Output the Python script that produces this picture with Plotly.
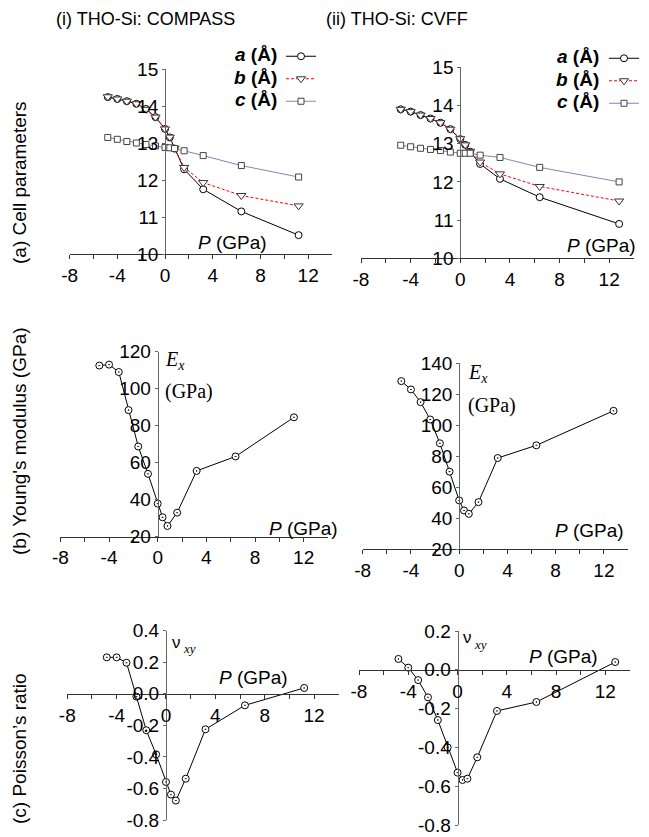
import plotly.graph_objects as go

# the page body adds an 8px margin, so the figure is drawn 8px smaller and pixel positions are shifted
OFF = 8
W, H = 649 - OFF, 837 - OFF

# pressures (GPa)
pressure_compass = [-4.8, -4.0, -3.2, -2.4, -1.6, -0.8, 0.0, 0.4, 0.8, 1.6, 3.2, 6.4, 11.2]
pressure_cvff = [-4.8, -4.0, -3.2, -2.4, -1.6, -0.8, 0.0, 0.4, 0.8, 1.6, 3.2, 6.4, 12.8]

# cell parameters (Å)
a_compass = [14.24, 14.19, 14.13, 14.06, 13.92, 13.70, 13.38, 13.15, 12.85, 12.29, 11.75, 11.15, 10.51]
b_compass = [14.25, 14.19, 14.13, 14.06, 13.91, 13.70, 13.38, 13.16, 12.86, 12.34, 11.93, 11.58, 11.30]
c_compass = [13.15, 13.10, 13.04, 13.00, 12.96, 12.92, 12.88, 12.87, 12.85, 12.79, 12.66, 12.39, 12.08]
a_cvff = [13.90, 13.84, 13.75, 13.66, 13.55, 13.38, 13.12, 12.97, 12.79, 12.47, 12.08, 11.60, 10.90]
b_cvff = [13.90, 13.84, 13.75, 13.66, 13.55, 13.38, 13.13, 12.97, 12.80, 12.52, 12.21, 11.88, 11.50]
c_cvff = [12.96, 12.92, 12.88, 12.85, 12.82, 12.78, 12.75, 12.75, 12.75, 12.70, 12.64, 12.38, 12.00]

# Young's modulus E_x (GPa)
E_compass = [112.5, 113.0, 109.0, 88.4, 68.7, 53.9, 37.8, 30.4, 25.7, 32.9, 55.5, 63.3, 84.5]
E_cvff = [128.5, 123.1, 114.9, 103.7, 88.3, 70.0, 51.4, 44.9, 42.7, 50.3, 78.8, 87.0, 109.3]

# Poisson's ratio nu_xy
nu_compass = [0.231, 0.231, 0.197, -0.018, -0.231, -0.384, -0.559, -0.639, -0.677, -0.538, -0.225, -0.073, 0.037]
nu_cvff = [0.056, 0.011, -0.053, -0.142, -0.259, -0.400, -0.530, -0.568, -0.561, -0.451, -0.212, -0.166, 0.040]

# tick labels
x_tickvals = [-8, -4, 0, 4, 8, 12]
x_ticktext = ["-8", "-4", "0", "4", "8", "12"]
x_minorvals = [-6, -2, 2, 6, 10]
cell_ticks = [10, 11, 12, 13, 14, 15]
young_ticks_i = [20, 40, 60, 80, 100, 120]
young_ticks_ii = [20, 40, 60, 80, 100, 120, 140]
poisson_ticks_i = [-0.8, -0.6, -0.4, -0.2, 0.0, 0.2, 0.4]
poisson_ticks_ii = [-0.8, -0.6, -0.4, -0.2, 0.0, 0.2]

FONT = "Liberation Sans, Arial, sans-serif"
SERIF = "Liberation Serif, Times New Roman, serif"
XR = [-8, 14]


def fx(px):
    return (px - OFF) / W


def fy(py):
    return 1 - (py - OFF) / H


fig = go.Figure()

# panel boxes in page pixels: left (x=-8), right (x=14), top, bottom
panels = {
    1: dict(box=(69.6, 332, 69, 254), yr=[10, 15], yt=cell_ticks, xzero=False),
    2: dict(box=(361, 634, 67.3, 258.3), yr=[10, 15], yt=cell_ticks, xzero=False),
    3: dict(box=(60.4, 328, 351.7, 536.5), yr=[20, 120], yt=young_ticks_i, xzero=False),
    4: dict(box=(362.7, 628, 363.3, 549), yr=[20, 140], yt=young_ticks_ii, xzero=False),
    5: dict(box=(67.3, 338.7, 630.7, 820), yr=[-0.8, 0.4], yt=poisson_ticks_i, xzero=True),
    6: dict(box=(359, 630, 631, 825), yr=[-0.8, 0.2], yt=poisson_ticks_ii, xzero=True),
}

for n, p in panels.items():
    x0, x1, yt0, yb0 = p["box"]
    xd = [fx(x0), fx(x1)]
    yd = [fy(yb0), fy(yt0)]
    yr = p["yr"]
    sfx = "" if n == 1 else str(n)
    ypos = xd[0] + (0 - XR[0]) / (XR[1] - XR[0]) * (xd[1] - xd[0])
    if isinstance(yr[0], float):
        ytext = ["%.1f" % v for v in p["yt"]]
    else:
        ytext = [str(v) for v in p["yt"]]
    xa = dict(domain=xd, range=XR, tickmode="array", tickvals=x_tickvals, ticktext=x_ticktext,
              showgrid=False, zeroline=False, showline=True, linecolor="#333", linewidth=1,
              ticks="outside", ticklen=4, tickcolor="#333", automargin=False,
              minor=dict(tickmode="array", tickvals=x_minorvals, ticks="outside", ticklen=4,
                         tickcolor="#333", showgrid=False),
              tickfont=dict(family=FONT, size=19, color="black"))
    if p["xzero"]:
        xa.update(anchor="free", position=yd[0] + (0 - yr[0]) / (yr[1] - yr[0]) * (yd[1] - yd[0]))
    else:
        xa.update(anchor="y" + sfx)
    ya = dict(domain=yd, range=yr, anchor="free", position=ypos, tickmode="array",
              tickvals=p["yt"], ticktext=ytext, showgrid=False, zeroline=False,
              showline=True, linecolor="#666", linewidth=1, ticks="outside", ticklen=3,
              tickcolor="#666", automargin=False,
              tickfont=dict(family=FONT, size=19, color="black"))
    fig.update_layout(**{"xaxis" + sfx: xa, "yaxis" + sfx: ya})

# (a) cell parameters
cell_series = [
    (pressure_compass, a_compass, b_compass, c_compass, "x", "y", "legend"),
    (pressure_cvff, a_cvff, b_cvff, c_cvff, "x2", "y2", "legend2"),
]
for P, a, b, c, xa, ya, lg in cell_series:
    fig.add_trace(go.Scatter(x=P, y=a, mode="lines+markers", name=" ", xaxis=xa, yaxis=ya, legend=lg,
                             line=dict(color="black", width=1),
                             marker=dict(symbol="circle", size=7, color="white", line=dict(color="black", width=1))))
    fig.add_trace(go.Scatter(x=P, y=b, mode="lines+markers", name=" ", xaxis=xa, yaxis=ya, legend=lg,
                             line=dict(color="#ff0000", width=1, dash="3px,2px"),
                             marker=dict(symbol="triangle-down", size=8, color="white", line=dict(color="#333", width=1))))
    fig.add_trace(go.Scatter(x=P, y=c, mode="lines+markers", name=" ", xaxis=xa, yaxis=ya, legend=lg,
                             line=dict(color="#8484c4", width=1),
                             marker=dict(symbol="square", size=6, color="white", line=dict(color="#444", width=1))))

# (b) Young's modulus and (c) Poisson's ratio
for P, v, xa, ya in [(pressure_compass, E_compass, "x3", "y3"), (pressure_cvff, E_cvff, "x4", "y4"),
                     (pressure_compass, nu_compass, "x5", "y5"), (pressure_cvff, nu_cvff, "x6", "y6")]:
    fig.add_trace(go.Scatter(x=P, y=v, mode="lines+markers", showlegend=False, xaxis=xa, yaxis=ya,
                             line=dict(color="black", width=1),
                             marker=dict(symbol="circle-dot", size=7, color="white", line=dict(color="black", width=1))))


def ann(text, px, py, size=19, family=FONT, xanchor="left", yanchor="middle", angle=0):
    fig.add_annotation(text=text, x=fx(px), y=fy(py), xref="paper", yref="paper",
                       xanchor=xanchor, yanchor=yanchor, showarrow=False, textangle=angle,
                       font=dict(family=family, size=size, color="black"))


# titles
ann("(i) THO-Si: COMPASS", 145, 19, size=18, xanchor="center")
ann("(ii) THO-Si: CVFF", 397, 19, size=18, xanchor="center")
ann("(a) Cell parameters", 19, 183, size=19, xanchor="center", angle=-90)
ann("(b) Young's modulus (GPa)", 19, 441, size=19, xanchor="center", angle=-90)
ann("(c) Poisson\u2019s ratio", 19, 749, size=19, xanchor="center", angle=-90)

# legend texts
for xr, ys in [(279, (55, 77, 99)), (601, (57, 79, 101))]:
    for lab, yy in zip(["a", "b", "c"], ys):
        ann("<b><i>%s</i> (Å)</b>" % lab, xr, yy, xanchor="right")

# axis labels
for px, py in [(196, 243), (565, 245), (267, 528), (553, 530), (217, 677), (527, 656)]:
    ann("<i>P</i> (GPa)", px, py)

ann("<i>E<sub>x</sub></i>", 163, 360, size=20, family=SERIF)
ann("(GPa)", 163, 392, size=20, family=SERIF)
ann("<i>E<sub>x</sub></i>", 466, 373, size=20, family=SERIF)
ann("(GPa)", 466, 405, size=20, family=SERIF)

ann("\u03bd", 170, 642, size=17)
ann("<i>xy</i>", 181, 648, size=13, family=SERIF)
ann("\u03bd", 461, 637, size=17)
ann("<i>xy</i>", 472, 644, size=13, family=SERIF)

leg = dict(bgcolor="rgba(0,0,0,0)", font=dict(family=FONT, size=15), itemwidth=30,
           xanchor="left", yanchor="top", tracegroupgap=0)
fig.update_layout(
    width=W, height=H,
    margin=dict(l=0, r=0, t=0, b=0, autoexpand=False),
    plot_bgcolor="white", paper_bgcolor="white",
    legend=dict(leg, x=fx(281), y=fy(40)),
    legend2=dict(leg, x=fx(604), y=fy(42)),
)

fig.write_html("out.html")
